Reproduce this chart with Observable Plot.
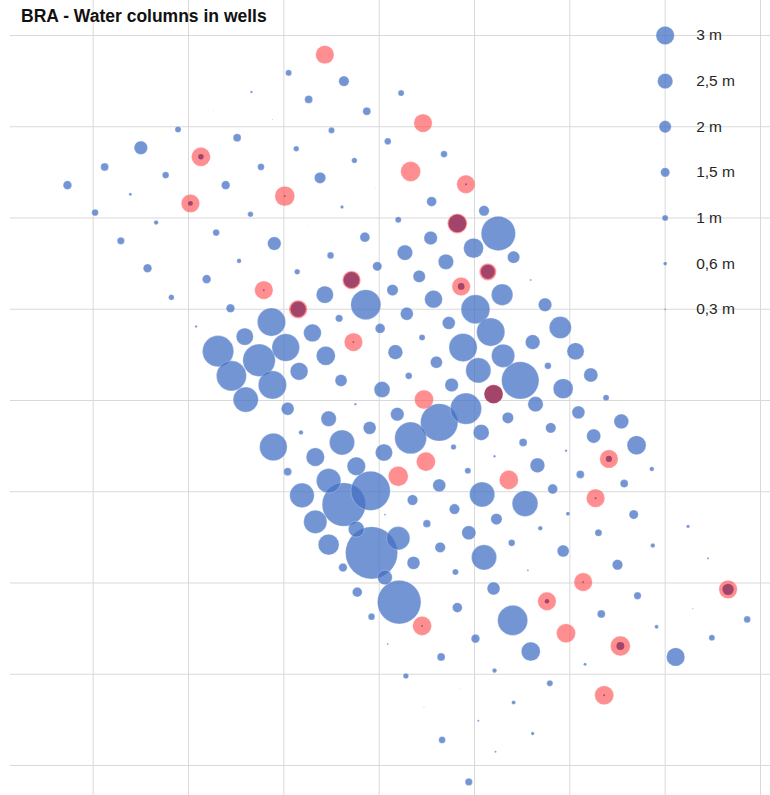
<!DOCTYPE html>
<html><head><meta charset="utf-8">
<script src="https://cdn.jsdelivr.net/npm/d3@7"></script>
<script src="https://cdn.jsdelivr.net/npm/@observablehq/plot@0.6"></script>
<style>
html,body{margin:0;padding:0;background:#fff;}
#wrap{position:relative;width:770px;height:795px;}
#title{position:absolute;left:21px;top:6px;font:bold 17.5px "Liberation Sans",Arial,sans-serif;color:#111;white-space:nowrap;}
</style></head><body>
<div id="wrap"><div id="title">BRA - Water columns in wells</div></div>
<script>
// Grid tick values (map grid units)
const gridX = [1, 2, 3, 4, 5, 6, 7, 8];
const gridY = [1, 2, 3, 4, 5, 6, 7, 8, 9];

// Wells: position (grid units) and water column (m)
const wellX = [2.66,2.26,1.89,2.51,1.50,1.12,1.76,2.76,0.73,2.39,1.39,1.02,2.65,1.66,2.29,1.29,2.53,1.57,
3.05,3.63,4.23,3.26,3.87,2.88,3.50,4.09,3.13,4.68,3.74,3.38,3.96,4.55,3.61,5.10,4.20,3.26,5.25,2.90,3.85,4.54,4.99,5.41,3.49,4.27,4.70,3.98,
2.19,1.82,2.44,2.08,2.59,2.31,2.45,2.60,2.74,
3.14,4.42,3.43,3.86,4.14,4.57,5.01,5.29,2.87,3.58,4.29,3.30,4.01,4.73,5.17,4.45,3.02,4.88,5.30,3.44,4.17,4.60,3.16,5.04,2.88,3.60,4.31,4.76,4.03,
3.04,3.75,4.91,3.47,4.19,4.63,5.35,3.18,3.90,5.07,3.61,4.33,2.89,4.78,5.21,4.05,3.33,3.76,3.04,4.93,3.47,3.91,4.63,5.08,3.19,3.63,4.35,4.06,4.79,5.23,
3.33,4.50,3.76,3.92,3.47,4.20,3.62,4.06,3.77,4.21,3.92,4.09,
5.59,5.74,5.90,5.61,6.06,5.48,5.77,6.22,5.93,6.38,5.64,6.09,6.54,5.80,6.25,6.70,5.51,5.96,6.86,5.66,6.11,6.57,5.82,5.53,5.98,6.67,7.04,5.69,6.30,7.24,
4.94,4.64,5.39,5.10,5.93,4.36,4.80,5.56,5.20,4.82,5.40,5.01,5.59,4.65,6.16,5.21,4.28,5.79,4.84,5.41,4.47,5.04,5.61,4.66,5.22,4.94,
6.87,6.50,7.45,7.08,6.71,6.33,7.29,7.86,6.91,7.49,7.11];
const wellY = [8.38,8.18,7.97,7.88,7.77,7.56,7.47,7.56,7.36,7.36,7.26,7.06,7.04,6.95,6.84,6.75,6.53,6.45,
8.59,8.50,8.37,8.30,8.17,8.08,7.96,7.84,7.76,7.70,7.63,7.44,7.32,7.18,7.12,7.08,6.98,6.92,6.83,6.72,6.79,6.78,6.67,6.57,6.59,6.62,6.52,6.47,
6.33,6.13,6.01,5.81,5.70,5.54,5.27,5.01,5.44,
6.41,6.36,6.16,6.05,6.21,6.11,6.00,6.16,5.86,5.90,5.95,5.74,5.79,5.85,5.75,5.69,5.58,5.58,5.49,5.49,5.53,5.42,5.32,5.33,5.17,5.22,5.27,5.17,5.12,
4.91,4.96,4.91,4.80,4.85,4.76,4.81,4.65,4.70,4.65,4.54,4.59,4.49,4.49,4.39,4.43,4.38,4.28,4.22,4.23,4.12,4.01,4.07,3.97,3.96,3.86,3.91,3.75,3.81,3.70,
3.67,3.65,3.59,3.33,3.42,3.49,3.17,3.06,2.90,2.79,2.63,2.33,
6.32,6.05,5.80,5.64,5.54,5.22,5.38,5.28,5.13,5.03,4.96,4.87,4.77,4.70,4.61,4.51,4.54,4.45,4.25,4.29,4.19,4.09,4.03,3.87,3.76,3.75,3.95,3.60,3.55,3.62,
3.55,3.39,3.44,3.28,3.35,3.22,3.12,3.14,2.94,2.73,2.59,2.39,2.25,2.19,2.11,2.04,1.98,1.90,1.84,1.69,1.64,1.49,1.35,1.28,1.15,0.82,
3.41,3.20,3.27,3.06,2.86,2.66,2.72,2.60,2.52,2.40,2.19];
const wellCol = [0.4,0.1,1.0,1.3,2.2,1.3,1.1,1.1,1.4,1.4,0.5,1.1,0.9,0.75,1.1,1.2,0.75,1.4,
1.0,1.7,1.0,1.3,1.3,0.15,1.0,1.1,0.9,1.1,0.9,1.85,0.1,1.6,0.55,1.7,1.0,0.1,5.6,2.2,1.6,2.2,3.25,2.0,1.1,2.5,2.5,1.5,
1.4,0.9,1.4,0.4,2.8,5.1,4.9,4.1,5.3,
0.9,2.0,2.8,4.9,1.85,2.9,4.7,3.5,4.6,1.2,2.1,2.9,1.6,2.1,4.6,1.0,4.5,4.6,3.8,3.1,2.4,1.95,2.9,4.1,4.6,1.95,1.1,2.2,2.6,
2.1,0.4,5.1,2.5,2.2,6.1,1.85,0.75,2.1,2.6,4.1,5.2,4.5,0.9,0.4,2.8,3.0,3.0,1.3,1.0,4.0,6.4,2.1,4.1,4.0,7.1,1.7,0.3,1.7,1.85,
3.8,1.25,2.6,8.5,3.4,3.8,1.4,2.4,1.6,7.1,1.1,0.3,
0.3,2.2,3.6,2.4,2.8,6.1,1.1,2.3,3.25,1.0,2.5,2.1,2.4,1.7,2.3,3.1,1.3,0.4,0.75,2.4,1.3,1.3,1.6,4.2,0.65,1.5,0.1,0.75,1.15,0.55,
2.3,1.7,1.1,4.1,1.95,2.1,1.0,0.3,2.1,1.6,4.9,1.4,3.1,1.3,0.5,0.75,0.9,1.0,0.1,0.65,0.15,0.35,0.55,1.1,0.35,1.2,
0.75,1.7,0.35,0.05,1.2,1.3,0.2,1.1,0.65,1.0,3.0];

// Flagged wells (red marker) and their water column (dark overlay, m)
const flagX = [3.43,4.46,2.13,4.33,4.91,2.02,3.01,4.82,5.14,2.79,3.71,4.86,3.15,3.73,5.20,4.47,4.49,4.20,5.36,6.41,6.27,6.14,5.76,4.45,5.96,7.66,6.53,6.36];
const flagY = [8.79,8.04,7.67,7.51,7.37,7.16,7.24,6.94,6.41,6.21,6.32,6.25,6.00,5.64,5.07,5.01,4.33,4.17,4.13,4.36,3.93,3.01,2.80,2.53,2.45,2.93,2.31,1.77];
const flagSize = [3.0,3.0,3.1,3.25,3.0,3.0,3.25,3.25,2.8,3.0,3.0,3.0,3.0,3.0,3.1,3.1,3.1,3.25,3.1,3.0,3.0,3.0,3.0,3.1,3.1,3.0,3.25,3.1];
const flagCol = [0,0,0.9,0,0.3,0.8,0.3,2.9,2.3,0.3,2.6,1.1,2.5,0.3,3.0,0,0,0,0,1.0,0.3,0.3,0.75,0.3,0,1.85,1.3,0.3];

// Size legend
const legendSizes = [3, 2.5, 2, 1.5, 1, 0.6, 0.3];
const legendLabels = ["3 m", "2,5 m", "2 m", "1,5 m", "1 m", "0,6 m", "0,3 m"];
const legendY = [9, 8.5, 8, 7.5, 7, 6.5, 6];
const legendX = 7;

const wells = wellX.map((x, i) => ({x, y: wellY[i], v: wellCol[i]}));
const flags = flagX.map((x, i) => ({x, y: flagY[i], s: flagSize[i], v: flagCol[i]}));
const legend = legendSizes.map((v, i) => ({x: legendX, y: legendY[i], v, label: legendLabels[i]}));

const chart = Plot.plot({
  width: 770, height: 795,
  marginLeft: 10, marginRight: 0, marginTop: 0, marginBottom: 0,
  style: {fontFamily: "'Liberation Sans', Arial, sans-serif", background: "#fff"},
  x: {domain: [0.1325, 8.105], axis: null},
  y: {domain: [0.671, 9.3836], axis: null},
  r: {type: "linear", domain: [0, 3], range: [0, 9.2]},
  marks: [
    Plot.ruleX(gridX, {stroke: "#d9d9d9", strokeWidth: 1}),
    Plot.ruleY(gridY, {stroke: "#d9d9d9", strokeWidth: 1}),
    Plot.dot(wells, {x: "x", y: "y", r: "v", fill: "#4472C4", fillOpacity: 0.75, stroke: "#fff", strokeOpacity: 0.45, strokeWidth: 0.6}),
    Plot.dot(flags, {x: "x", y: "y", r: "s", fill: "#FF5256", fillOpacity: 0.65, stroke: "#fff", strokeOpacity: 0.45, strokeWidth: 0.6}),
    Plot.dot(flags.filter(d => d.v > 0), {x: "x", y: "y", r: "v", fill: "#993D66", fillOpacity: 0.9}),
    Plot.dot(legend, {x: "x", y: "y", r: "v", fill: "#4472C4", fillOpacity: 0.75, stroke: "#fff", strokeOpacity: 0.45, strokeWidth: 0.6}),
    Plot.text(legend, {x: "x", y: "y", text: "label", dx: 31, textAnchor: "start", fontSize: 15.5, fill: "#262626"})
  ]
});
document.getElementById("wrap").prepend(chart);
</script>
</body></html>
